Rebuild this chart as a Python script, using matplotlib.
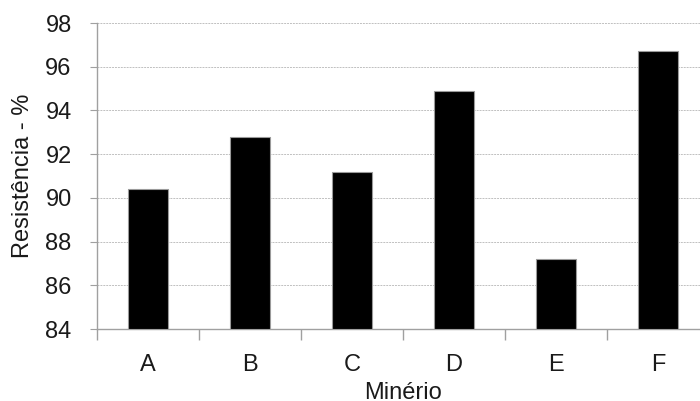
import matplotlib
matplotlib.use("Agg")
import matplotlib.pyplot as plt
import numpy as np

categories = ["A", "B", "C", "D", "E", "F"]
values = [90.4, 92.8, 91.2, 94.9, 87.2, 96.7]
yticks = [84, 86, 88, 90, 92, 94, 96, 98]

plt.rcParams['font.family'] = ['Liberation Sans', 'DejaVu Sans']

fig = plt.figure(figsize=(7.0, 4.01), dpi=100)
ax = fig.add_axes([96.7/700, 1-329/401, (709-96.7)/700, (329-23)/401])

x = np.arange(len(categories))
ax.bar(x, np.array(values) - 84, bottom=84, width=0.39, color='black',
       edgecolor='#9a9a9a', linewidth=0.8, zorder=3)

ax.set_ylim(84, 98)
ax.set_xlim(-0.5, len(categories) - 0.5)
ax.set_yticks(yticks)
ax.set_yticklabels([str(t) for t in yticks])
ax.set_xticks(x)
ax.set_xticklabels(categories)
ax.set_xticks(np.arange(len(categories) + 1) - 0.5, minor=True)

ax.yaxis.grid(True, color='#c0c0c0', linewidth=0.7, linestyle=(0, (2, 1)), zorder=0)
ax.tick_params(axis='y', which='major', length=5, color='#a0a0a0', labelsize=17, pad=13, labelcolor='#1a1a1a')
ax.tick_params(axis='x', which='major', length=0, labelsize=17, pad=18, labelcolor='#1a1a1a')
ax.tick_params(axis='x', which='minor', length=8, color='#a0a0a0', width=1.0)

for s in ['top', 'right']:
    ax.spines[s].set_visible(False)
for s in ['left', 'bottom']:
    ax.spines[s].set_color('#a0a0a0')
    ax.spines[s].set_linewidth(1.0)

ax.set_ylabel("Resistência - %", fontsize=17, color='#1a1a1a', labelpad=8)
ax.set_xlabel("Minério", fontsize=17, color='#1a1a1a', labelpad=4)

fig.savefig("out.png", dpi=100)
